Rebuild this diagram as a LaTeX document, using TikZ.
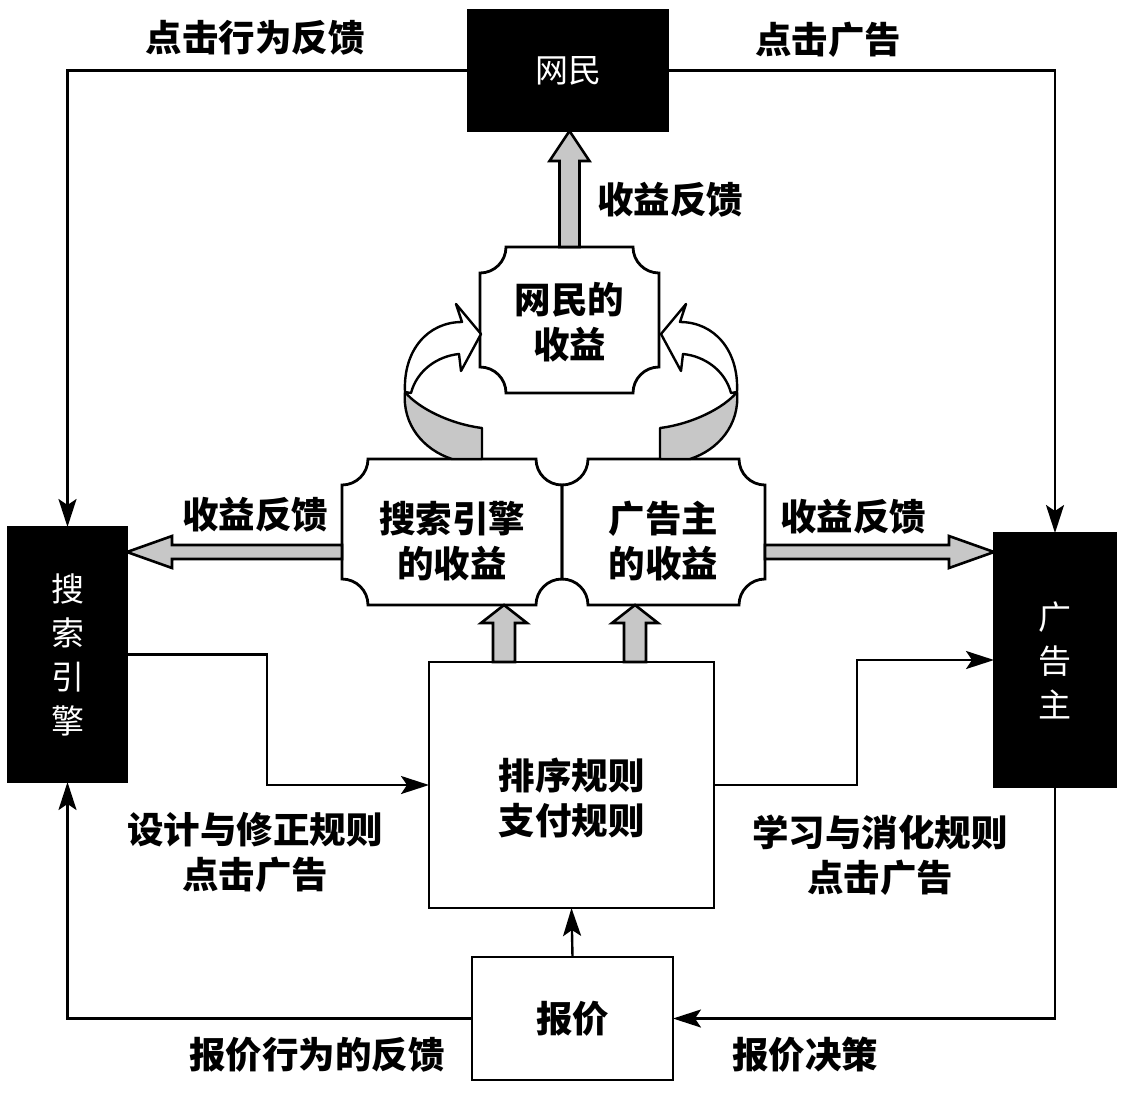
\documentclass[tikz,border=0pt]{standalone}
\usepackage{fontspec}
\setmainfont{Noto Sans CJK SC}
\usetikzlibrary{arrows.meta,calc}

\makeatletter
\newcommand\fatarrow[6][]{%
  \path (#5) coordinate (fas) (#6) coordinate (fae);
  \pgfpointdiff{\pgfpointanchor{fas}{center}}{\pgfpointanchor{fae}{center}}%
  \edef\fa@dx{\the\pgf@x}\edef\fa@dy{\the\pgf@y}%
  \pgfmathsetmacro\fa@len{veclen(\fa@dx,\fa@dy)}%
  \pgfmathsetmacro\fa@ang{atan2(\fa@dy,\fa@dx)}%
  \pgfmathsetmacro\fa@b{\fa@len-#4}%
  \draw[fatstyle,#1,shift={(fas)},rotate=\fa@ang] (0pt,#2pt) -- (\fa@b pt,#2pt) -- (\fa@b pt,#3pt) -- (\fa@len pt,0pt) -- (\fa@b pt,-#3pt) -- (\fa@b pt,-#2pt) -- (0pt,-#2pt) -- cycle;
}
\makeatother

\newcommand\notchbox[2]{%
  \draw[boxline] ($(#1.north east)+(-#2,0)$) arc[start angle=180,end angle=270,radius=#2]
    -- ($(#1.south east)+(0,#2)$) arc[start angle=90,end angle=180,radius=#2]
    -- ($(#1.south west)+(#2,0)$) arc[start angle=0,end angle=90,radius=#2]
    -- ($(#1.north west)+(0,-#2)$) arc[start angle=270,end angle=360,radius=#2] -- cycle;}

\definecolor{stip}{gray}{0.78}

\tikzset{
  lbl/.style={font=\bfseries\fontsize{36.5pt}{45pt}\selectfont, align=center, inner sep=0pt},
  boxline/.style={line width=2.8pt, line join=miter},
  nbox/.style={inner sep=0pt, outer sep=0pt, draw=none},
  wbox/.style={inner sep=0pt, outer sep=0pt, draw=black, line width=2.8pt, lbl},
  blk/.style={inner sep=0pt, outer sep=0pt, draw=black, fill=black, text=white, line width=2pt, align=center, font=\fontsize{33pt}{44pt}\selectfont},
  conn/.style={line width=2.4pt, -{Stealth[length=28pt,width=18pt,inset=6pt]}},
  fatstyle/.style={line width=2.6pt, draw=black, fill=stip, line join=miter},
  ribbon/.style={line width=2.4pt, draw=black, line join=round}
}

\begin{document}
\begin{tikzpicture}[x=1pt,y=1pt]
\useasboundingbox[fill=white] (0,0) rectangle (1126,-1104);

% black boxes
\node[blk, minimum width=200pt, minimum height=121pt] (wm) at (568,-70.5) {网民};
\node[blk, minimum width=119pt, minimum height=255pt] (se) at (67.5,-654.5) {搜\\索\\引\\擎};
\node[blk, minimum width=122pt, minimum height=254pt] (ad) at (1055,-660) {广\\告\\主};

% notched revenue boxes
\node[nbox, minimum width=179pt, minimum height=146pt,
      label={[lbl,yshift=-2pt]center:网民的\\收益}] (wmr) at (569.5,-320) {};
\node[nbox, minimum width=220pt, minimum height=146pt,
      label={[lbl,yshift=-9pt]center:搜索引擎\\的收益}] (ser) at (452,-532) {};
\node[nbox, minimum width=203pt, minimum height=146pt,
      label={[lbl,yshift=-9pt]center:广告主\\的收益}] (adr) at (663.5,-532) {};
\notchbox{wmr}{26}
\notchbox{ser}{26}
\notchbox{adr}{26}

% rule box and bid box
\node[wbox, minimum width=285pt, minimum height=246pt,
      label={[lbl,yshift=-13pt]center:排序规则\\支付规则}] (rule) at (571.5,-785) {};
\node[wbox, minimum width=201pt, minimum height=123pt] (bid) at (572.5,-1018.5) {报价};

% helper coordinates
\coordinate (lk) at (267,-720);
\coordinate (rk) at (857,-720);
\coordinate (ua) at ($(rule.north west)+(75,0)$);
\coordinate (ub) at ($(rule.north east)+(-79,0)$);
\coordinate (la) at ($(ser.west)+(0,-20)$);
\coordinate (ra) at ($(adr.east)+(0,-20)$);

% thin connectors
\draw[conn] (wm.west) -| (se.north);
\draw[conn] (wm.east) -| (ad.north);
\draw[conn] (se.east) -| (lk) |- (rule.west);
\draw[conn] (rule.east) -| (rk) |- (ad.west);
\draw[conn] (bid.north) -- (rule.south);
\draw[conn] (ad.south) |- (bid.east);
\draw[conn] (bid.west) -| (se.south);

% fat arrows
\fatarrow{10}{20}{30}{wmr.north}{wmr.north |- wm.south}
\fatarrow{11}{23}{18}{ua}{ua |- ser.south}
\fatarrow{11}{23}{18}{ub}{ub |- adr.south}
\fatarrow{7}{16}{45}{la}{la -| se.east}
\fatarrow{7}{16}{45}{ra}{ra -| ad.west}

% curved ribbon arrows
\draw[ribbon, fill=stip] (452,-459) .. controls (424,-450) and (402,-425) .. (405,-392)
  .. controls (418,-408) and (450,-424) .. (482,-428) -- (482,-459) -- cycle;
\draw[ribbon, fill=white] (405,-392) .. controls (403,-350) and (428,-322) .. (462,-322)
  -- (456,-304) -- (481,-334) -- (461,-371) -- (459,-354)
  .. controls (438,-356) and (417,-370) .. (411,-393) -- cycle;
\begin{scope}[shift={(1142,0)}, xscale=-1]
\draw[ribbon, fill=stip] (452,-459) .. controls (424,-450) and (402,-425) .. (405,-392)
  .. controls (418,-408) and (450,-424) .. (482,-428) -- (482,-459) -- cycle;
\draw[ribbon, fill=white] (405,-392) .. controls (403,-350) and (428,-322) .. (462,-322)
  -- (456,-304) -- (481,-334) -- (461,-371) -- (459,-354)
  .. controls (438,-356) and (417,-370) .. (411,-393) -- cycle;
\end{scope}

% labels
\node[lbl] (t1) at (255,-38) {点击行为反馈};
\node[lbl] (t2) at (828,-40) {点击广告};
\node[lbl] (t3) at (670,-200) {收益反馈};
\node[lbl] (t4) at (255,-515) {收益反馈};
\node[lbl] (t5) at (853,-517) {收益反馈};
\node[lbl] (t6) at (255,-852) {设计与修正规则\\点击广告};
\node[lbl] (t7) at (880,-855) {学习与消化规则\\点击广告};
\node[lbl] (t8) at (317,-1055) {报价行为的反馈};
\node[lbl] (t9) at (805,-1055) {报价决策};
\end{tikzpicture}
\end{document}
